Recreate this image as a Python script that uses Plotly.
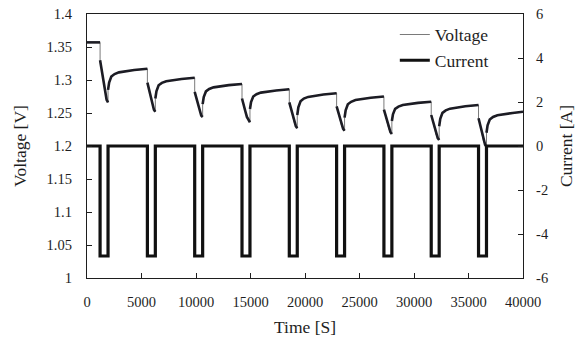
import plotly.graph_objects as go

# ---- data -------------------------------------------------------------
# discharge pulses: start time [s], duration [s], current [A]
pulse_start = [1200, 5540, 9880, 14220, 18560, 22900, 27240, 31580, 35920]
pulse_length = 730
pulse_current = -5.0
end_time = 40000

# open-circuit rest before the first pulse
rest_time = [0, 1200]
rest_voltage = [1.357, 1.357]

# voltage during each pulse, sampled at these offsets from pulse start [s]
discharge_offsets = [0, 150, 300, 450, 600, 730]
discharge_voltage = [
    [1.330, 1.315, 1.295, 1.280, 1.270, 1.266],
    [1.296, 1.286, 1.272, 1.262, 1.255, 1.252],
    [1.282, 1.273, 1.261, 1.252, 1.246, 1.244],
    [1.272, 1.264, 1.253, 1.244, 1.239, 1.236],
    [1.266, 1.257, 1.245, 1.236, 1.230, 1.227],
    [1.260, 1.251, 1.240, 1.231, 1.226, 1.223],
    [1.255, 1.246, 1.235, 1.226, 1.221, 1.218],
    [1.247, 1.238, 1.226, 1.217, 1.212, 1.209],
    [1.242, 1.232, 1.219, 1.208, 1.202, 1.199],
]

# voltage recovery after each pulse, sampled at these offsets from pulse end [s];
# the final value of each row is reached at the next pulse start (or end of test)
recovery_offsets = [0, 100, 300, 600, 1000, 1600, 2400]
recovery_voltage = [
    [1.2850, 1.2962, 1.3052, 1.3090, 1.3116, 1.3135, 1.3151, 1.3170],
    [1.2720, 1.2830, 1.2920, 1.2956, 1.2980, 1.3000, 1.3016, 1.3035],
    [1.2635, 1.2740, 1.2827, 1.2864, 1.2888, 1.2906, 1.2922, 1.2940],
    [1.2560, 1.2665, 1.2749, 1.2785, 1.2809, 1.2827, 1.2842, 1.2860],
    [1.2470, 1.2585, 1.2678, 1.2718, 1.2744, 1.2764, 1.2780, 1.2800],
    [1.2430, 1.2542, 1.2632, 1.2670, 1.2696, 1.2715, 1.2731, 1.2750],
    [1.2380, 1.2481, 1.2563, 1.2597, 1.2621, 1.2638, 1.2653, 1.2670],
    [1.2300, 1.2412, 1.2502, 1.2540, 1.2566, 1.2585, 1.2601, 1.2620],
    [1.2200, 1.2312, 1.2402, 1.2440, 1.2466, 1.2485, 1.2501, 1.2520],
]

x_ticks = [0, 5000, 10000, 15000, 20000, 25000, 30000, 35000, 40000]
v_ticks = [1.0, 1.05, 1.1, 1.15, 1.2, 1.25, 1.3, 1.35, 1.4]
i_ticks = [-6, -4, -2, 0, 2, 4, 6]
i_tick_text = ["-6", "-4", "-2", "0", "2", "4", "6"]

# ---- build series -----------------------------------------------------
# continuous voltage segments (between the instantaneous steps)
segments = [(list(rest_time), list(rest_voltage))]
for k, t0 in enumerate(pulse_start):
    t_end = t0 + pulse_length
    segments.append(([t0 + d for d in discharge_offsets], discharge_voltage[k]))
    t_next = pulse_start[k + 1] if k + 1 < len(pulse_start) else end_time
    rec_t = [t_end + d for d in recovery_offsets] + [t_next]
    segments.append((rec_t, recovery_voltage[k]))

# full trace, steps included
v_t_all, v_all = [], []
# trace of the smooth parts only, broken at each step
v_t_seg, v_seg = [], []
for ts, vs in segments:
    v_t_all += ts
    v_all += vs
    v_t_seg += ts + [None]
    v_seg += vs + [None]

# current: rectangular discharge pulses
i_t = [0]
i_val = [0.0]
for t0 in pulse_start:
    i_t += [t0, t0, t0 + pulse_length, t0 + pulse_length]
    i_val += [0.0, pulse_current, pulse_current, 0.0]
i_t.append(end_time)
i_val.append(0.0)

# ---- figure -------------------------------------------------------------
FONT = "'Times New Roman', 'Liberation Serif', Times, serif"
INK = "#1e1e1e"
TITLE_FONT = dict(family=FONT, size=17.5, color=INK)

fig = go.Figure()
fig.add_trace(go.Scatter(
    x=v_t_all, y=v_all, mode="lines", name="Voltage",
    line=dict(color="#7a7a7a", width=1), yaxis="y",
))
fig.add_trace(go.Scatter(
    x=v_t_seg, y=v_seg, mode="lines", name="Voltage",
    line=dict(color="#1c1c24", width=2.6), showlegend=False,
    connectgaps=False, yaxis="y",
))
fig.add_trace(go.Scatter(
    x=i_t, y=i_val, mode="lines", name="Current",
    line=dict(color="#111111", width=3.2), yaxis="y2",
))

axis_common = dict(
    showgrid=False, zeroline=False, showline=True, linecolor=INK, linewidth=1.3,
    ticks="inside", ticklen=5, tickwidth=1.3, tickcolor=INK, automargin=False,
    tickfont=dict(family=FONT, size=14.5, color=INK),
)

fig.update_layout(
    width=576, height=341,
    margin=dict(l=87, r=53, t=14, b=63),
    paper_bgcolor="white", plot_bgcolor="white",
    font=dict(family=FONT, color=INK),
    xaxis=dict(
        range=[0, 40000], tickvals=x_ticks, tickformat="d", mirror=True,
        ticklabelstandoff=10,
        title=dict(text="Time [S]", font=TITLE_FONT, standoff=12),
        **axis_common,
    ),
    yaxis=dict(
        range=[1.0, 1.4], tickvals=v_ticks, ticktext=[("%g" % v) for v in v_ticks],
        ticklabelstandoff=11,
        title=dict(text="Voltage [V]", font=TITLE_FONT, standoff=15),
        **axis_common,
    ),
    yaxis2=dict(
        range=[-6, 6], tickvals=i_ticks, ticktext=i_tick_text,
        overlaying="y", side="right", ticklabelstandoff=9,
        title=dict(text="Current [A]", font=TITLE_FONT, standoff=18),
        **axis_common,
    ),
    legend=dict(
        x=0.706, y=0.99, xanchor="left", yanchor="top",
        bgcolor="rgba(0,0,0,0)", borderwidth=0,
        font=dict(family=FONT, size=17.5, color=INK),
        tracegroupgap=0,
    ),
    showlegend=True,
)

fig.write_html("out.html")
